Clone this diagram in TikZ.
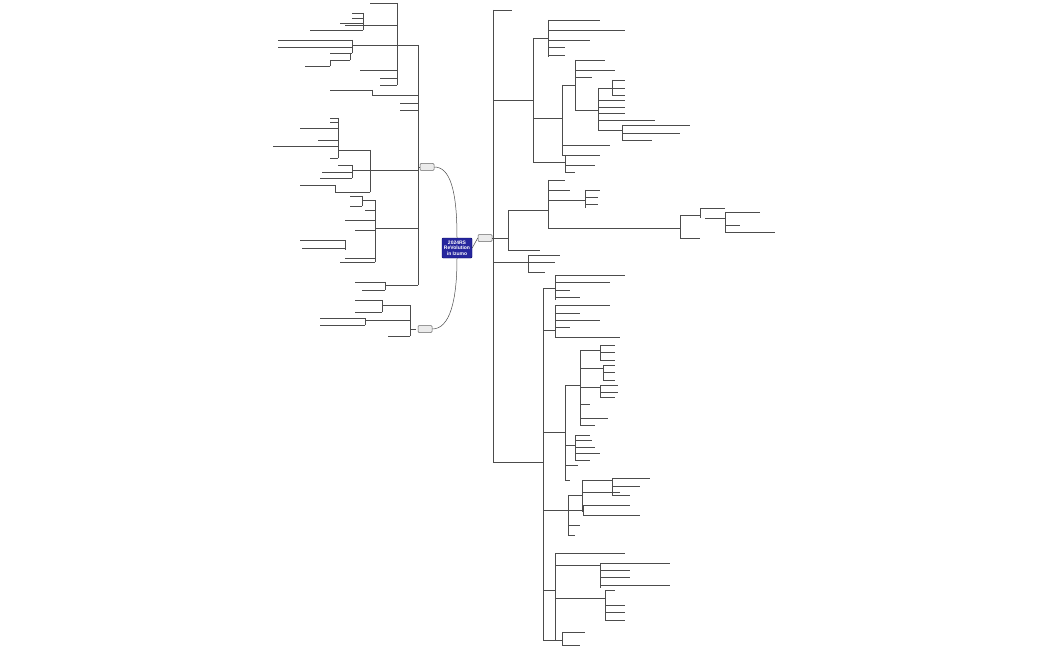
\documentclass[tikz,border=0pt]{standalone}
\usepackage{fontspec}
\setmainfont{Liberation Sans}
\begin{document}
\begin{tikzpicture}[x=1pt,y=-1pt,
  ln/.style={draw=black!70,line width=0.5pt},
  sub/.style={draw=black!60,fill=black!8,rounded corners=1pt,line width=0.5pt,minimum width=14pt,minimum height=7pt,inner sep=0pt,font=\fontsize{2.5}{3}\selectfont},
  root/.style={fill=blue!55!black!85,draw=blue!40!black,text=white,rounded corners=1pt,font=\fontsize{5}{5.5}\selectfont\bfseries,align=center,minimum width=30pt,minimum height=20pt,inner sep=1pt}]
\newcommand\grp[6]{\draw[ln] (#1,#2)--(#3,#2); \draw[ln] (#3,#4)--(#3,#5);
  \foreach \yy/\xx in {#6}{\draw[ln] (#3,\yy)--(\xx,\yy);}}
\useasboundingbox (0,0) rectangle (1050,650);
\fill[white] (0,0) rectangle (1050,650);
\node[root] (c) at (457,248) {2024RS\\ReVolution\\in Izumo};
\node[sub] (r) at (485,238) {};
\node[sub] (lu) at (427,167) {};
\node[sub] (ll) at (425,329) {};
\draw[ln] (c.east) -- (r.west);
\draw[ln] (c.north) .. controls (457,190) and (450,167) .. (lu.east);
\draw[ln] (c.south) .. controls (457,300) and (450,329) .. (ll.east);
% right side
\grp{492}{238}{493}{10}{462}{10/512,100/533,262/528,462/543}
\grp{533}{100}{533}{38}{162}{38/548,118/562,162/560}
\grp{548}{38}{548}{20}{57}{20/600,30/625,47/565,40/590,55/565}
\grp{562}{118}{562}{85}{155}{85/575,145/610,155/575}
\grp{575}{85}{575}{60}{110}{60/605,70/615,77/592,110/598}
\grp{598}{110}{598}{88}{130}{88/612,100/625,107/625,113/625,120/655,130/622}
\grp{612}{88}{612}{80}{95}{80/625,88/625,95/625}
\grp{622}{130}{622}{125}{140}{125/690,133/680,140/652}
\grp{560}{162}{565}{155}{172}{155/600,165/595,172/575}
\grp{493}{238}{508}{210}{250}{210/548,250/540}
\grp{548}{210}{548}{180}{228}{180/565,190/570,200/585,228/680}
\grp{585}{200}{585}{190}{208}{190/600,197/598,204/598}
\grp{680}{228}{680}{215}{238}{215/700,238/700}
\grp{700}{215}{700}{208}{218}{208/725}
\grp{705}{218}{725}{212}{232}{212/760,225/740,232/775}
\grp{508}{262}{528}{255}{272}{255/560,262/555,272/545}
\grp{543}{462}{543}{288}{640}{288/555,330/555,432/555,510/555,590/555,640/562}
\grp{555}{288}{555}{275}{300}{275/625,282/610,290/570,297/580}
\grp{555}{330}{555}{305}{337}{305/610,313/580,320/600,327/570,337/620}
\grp{555}{432}{565}{385}{480}{385/580,445/575,465/578,480/570}
\grp{580}{385}{580}{350}{425}{350/600,368/603,387/600,404/590,418/608,425/595}
\grp{600}{350}{600}{345}{360}{345/615,352/615,360/615}
\grp{603}{368}{603}{365}{380}{365/615,372/615,380/615}
\grp{600}{387}{600}{385}{397}{385/618,392/618,397/615}
\grp{575}{445}{575}{435}{460}{435/590,440/592,447/595,453/600,460/590}
\grp{555}{510}{568}{495}{535}{495/582,510/583,525/580,535/575}
\grp{582}{495}{582}{480}{512}{480/612,492/620,505/625}
\grp{612}{480}{612}{478}{495}{478/650,486/640,495/630}
\grp{583}{510}{583}{505}{515}{505/630,515/640}
\grp{555}{590}{555}{553}{640}{553/625,565/600,598/605}
\grp{600}{565}{600}{563}{588}{563/670,570/630,577/630,585/670}
\grp{605}{598}{605}{590}{620}{590/615,605/625,612/625,620/625}
\grp{543}{640}{562}{632}{645}{632/585,645/580}
% left upper
\grp{420}{167}{418}{45}{285}{45/397,95/395,103/400,110/400,170/390,228/390,285/385}
\grp{397}{45}{397}{3}{85}{3/370,25/345,70/360,78/380,85/380}
\grp{345}{25}{363}{13}{30}{13/352,18/352,23/340,30/310}
\grp{397}{45}{352}{40}{53}{40/278,47/278}
\grp{352}{53}{350}{53}{60}{53/330,60/330}
\grp{330}{60}{330}{60}{66}{66/305}
\grp{395}{95}{372}{90}{95}{90/330}
\grp{390}{170}{370}{150}{192}{150/345,192/335}
\grp{345}{150}{338}{118}{158}{118/330,122/330,128/300,140/318,146/273,158/330}
\grp{370}{170}{352}{165}{178}{165/338,172/322,178/320}
\grp{335}{192}{335}{185}{192}{185/300}
\grp{390}{228}{375}{200}{262}{200/362,210/365,220/345,230/355,258/345,262/340}
\grp{362}{200}{362}{196}{206}{196/350,206/350}
\grp{345}{240}{345}{240}{250}{240/300,248/302}
\grp{385}{285}{385}{282}{290}{282/355,290/362}
% left lower
\grp{416}{329}{410}{305}{336}{305/382,320/390,336/388}
\grp{382}{305}{382}{300}{312}{300/355,312/355}
\grp{390}{320}{365}{318}{325}{318/320,325/320}
\end{tikzpicture}
\end{document}
